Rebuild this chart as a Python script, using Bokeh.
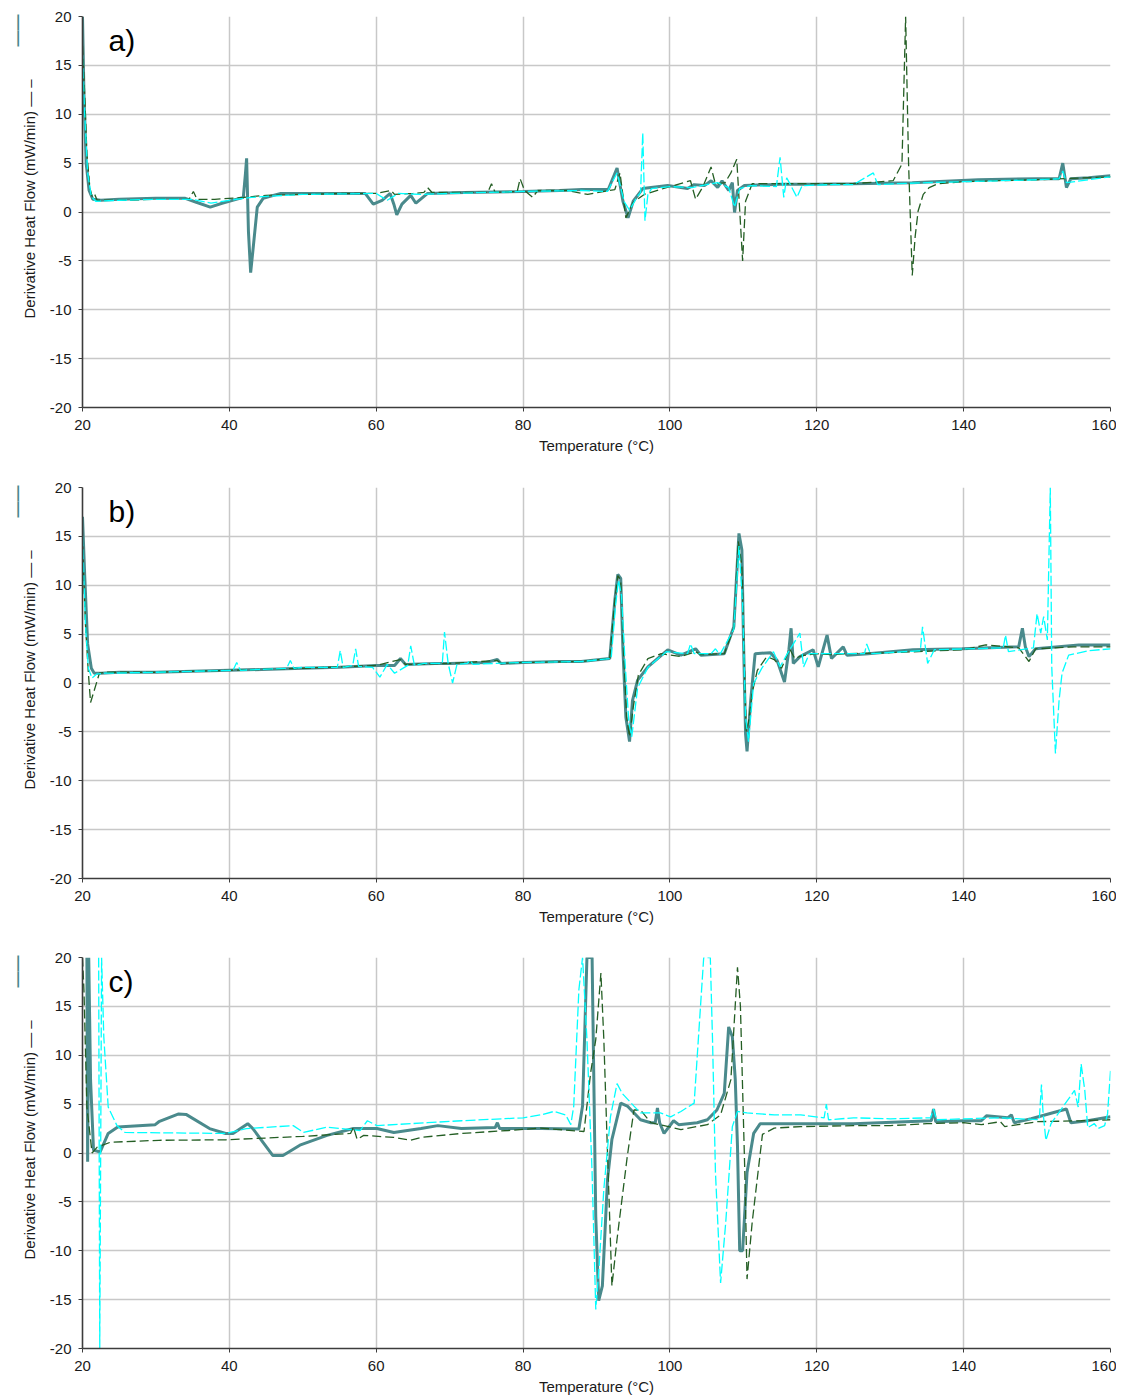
from bokeh.plotting import figure
from bokeh.layouts import column
from bokeh.models import Label, FixedTicker, Title
from bokeh.embed import file_html
from bokeh.resources import INLINE

# ---------------- data ----------------
x_ticks = [20, 40, 60, 80, 100, 120, 140, 160]
y_ticks = [-20, -15, -10, -5, 0, 5, 10, 15, 20]
y_tick_labels = ["-20", "-15", "-10", "-5", "0", "5", "10", "15", "20"]
panel_tags = ["a)", "b)", "c)"]
x_title = "Temperature (°C)"
y_title = "Derivative Heat Flow (mW/min) — –"

# panel a
a_teal_x = [20.0, 20.2, 20.5, 20.9, 21.4, 22.5, 25, 30, 34, 35.5, 37.4, 39, 41.9, 42.2, 42.35, 42.6, 42.9, 43.2, 43.8, 44.6, 47, 52, 58.5, 59.6, 60.8, 61.9, 62.4, 62.8, 63.5, 64.7, 65.4, 67, 72, 80, 85, 88, 91.6, 92.8, 93.6, 94.3, 95.0, 96.3, 99.7, 102.4, 103.3, 104.7, 105.6, 106.5, 107.1, 108.0, 108.5, 108.8, 109.2, 110.1, 115, 119.5, 125, 133, 142, 150, 153.0, 153.5, 154.0, 154.6, 157, 160]
a_teal_y = [20, 12, 5, 2.2, 1.3, 1.2, 1.3, 1.4, 1.4, 1.0, 0.5, 0.9, 1.5, 4.0, 5.5, -2, -6.2, -4, 0.5, 1.4, 1.9, 1.9, 1.9, 0.8, 1.2, 1.9, 0.8, -0.3, 0.8, 1.7, 0.9, 1.9, 2.0, 2.1, 2.2, 2.3, 2.3, 4.5, 1.1, -0.6, 1.1, 2.4, 2.7, 2.4, 2.8, 2.7, 3.2, 2.5, 3.2, 2.2, 3.0, -0.05, 2.2, 2.7, 2.85, 2.85, 2.9, 3.0, 3.3, 3.4, 3.4, 5.0, 2.5, 3.4, 3.5, 3.7]
a_green_x = [20.0, 20.3, 20.6, 21.0, 21.3, 21.6, 22.0, 25, 30, 34.5, 35.1, 35.6, 38, 42, 45, 50, 55, 60, 62.0, 62.5, 65, 66.5, 67.0, 67.6, 70, 75.2, 75.7, 76.2, 79.2, 79.6, 80.2, 81.3, 82, 86, 88.8, 92.5, 93.2, 94.0, 95, 96.5, 100, 102.8, 103.5, 104.5, 105.6, 106.2, 107.5, 108.3, 109.1, 109.4, 109.9, 110.3, 111.2, 115, 120, 125, 130.4, 131.6, 132.1, 132.5, 133.0, 133.4, 133.8, 134.5, 135.3, 136.5, 140, 150, 160]
a_green_y = [17, 12, 6, 2.5, 1.6, 1.9, 1.2, 1.2, 1.3, 1.3, 2.1, 1.3, 1.3, 1.5, 1.7, 1.8, 1.9, 1.9, 2.2, 1.8, 1.9, 2.0, 2.5, 2.0, 2.0, 2.0, 2.9, 2.0, 2.1, 3.4, 2.2, 1.5, 2.2, 2.2, 1.8, 2.3, 4.0, -0.6, 1.0, 1.8, 2.6, 3.2, 1.3, 2.6, 4.6, 2.85, 3.0, 4.0, 5.4, 1.5, -5.0, 1.1, 2.9, 2.9, 2.9, 2.9, 3.2, 4.9, 20, 5, -6.5, -2.5, 0.1, 1.8, 2.5, 2.9, 3.1, 3.3, 3.6]
a_cyan_x = [20.0, 20.3, 20.7, 21.2, 21.8, 25, 30, 35, 37.5, 40, 43, 45, 50, 60, 61.5, 63, 66, 70, 80, 88, 91.5, 92.8, 93.8, 94.5, 95.5, 96.0, 96.3, 96.6, 97.0, 97.5, 100, 103, 105, 106.5, 108, 108.8, 109.5, 111, 114.5, 115.0, 115.5, 115.9, 116.4, 117.3, 118, 122, 125, 127.7, 128.3, 131, 135, 140, 150, 153, 153.5, 154, 160]
a_cyan_y = [16, 10, 4, 1.6, 1.1, 1.2, 1.3, 1.3, 0.9, 1.2, 1.5, 1.6, 1.8, 1.9, 1.2, 1.9, 1.8, 1.9, 2.1, 2.2, 2.1, 4.0, 1.0, 0.2, 1.5, 2.0, 8.1, -0.9, 1.8, 2.4, 2.6, 2.5, 2.8, 3.0, 2.5, 0.5, 2.4, 2.7, 2.6, 5.6, 1.5, 3.5, 2.8, 1.5, 2.7, 2.8, 2.8, 4.0, 2.8, 2.9, 3.0, 3.1, 3.3, 3.4, 4.2, 3.0, 3.6]

# panel b
b_teal_x = [20.0, 20.3, 20.7, 21.2, 21.6, 22.5, 25, 30, 40, 50, 55, 60, 62.5, 63.3, 64, 68, 70, 75, 76.5, 77, 80, 85, 87.9, 91.8, 92.5, 92.9, 93.3, 93.6, 94.0, 94.5, 94.9, 95.6, 97.0, 99.7, 101.5, 103.5, 104.2, 107.4, 108.7, 109.4, 109.8, 110.0, 110.3, 110.5, 111.0, 111.6, 113.7, 114.6, 115.6, 116.2, 116.5, 116.8, 117.7, 119.5, 120.2, 121.4, 122.0, 123.6, 124.1, 127, 133.1, 139.8, 147.5, 148.0, 148.4, 148.9, 149.8, 155.7, 160]
b_teal_y = [17, 11, 4, 1.5, 1.0, 1.0, 1.1, 1.1, 1.3, 1.5, 1.6, 1.8, 1.8, 2.5, 1.9, 2.0, 2.0, 2.1, 2.4, 2.0, 2.1, 2.2, 2.2, 2.5, 8.5, 11.1, 10.7, 3.4, -3.5, -6.0, -1.8, 0.3, 1.65, 3.4, 2.85, 3.5, 2.85, 3.0, 5.75, 15.3, 13.6, 5.1, -5.2, -7.0, -1.8, 3.0, 3.1, 2.3, 0.1, 3.4, 5.6, 2.0, 2.7, 3.4, 1.65, 4.9, 2.5, 3.7, 2.85, 3.0, 3.4, 3.5, 3.7, 5.6, 3.7, 2.7, 3.5, 3.9, 3.9]
b_green_x = [20.0, 20.4, 20.8, 21.1, 21.5, 22.3, 23, 30, 40, 50, 60, 63.3, 64, 70, 76.5, 77, 80, 87.9, 91.8, 92.5, 92.9, 93.3, 93.7, 94.1, 94.5, 95.0, 95.7, 97.0, 98.8, 101.5, 103.5, 104.2, 107.4, 108.7, 109.3, 109.8, 110.1, 110.4, 110.7, 111.2, 111.9, 113.2, 114.2, 115.2, 116.3, 117, 118, 120, 122, 124, 130, 140, 143, 147.5, 148.9, 149.8, 155, 160]
b_green_y = [14, 6, 1.0, -2.0, -1.0, 1.0, 1.1, 1.1, 1.3, 1.5, 1.8, 2.4, 1.9, 2.0, 2.3, 2.0, 2.1, 2.2, 2.5, 8.5, 11.0, 10.5, 3.0, -3.5, -5.5, -2.5, 0.8, 2.5, 3.0, 2.7, 3.2, 2.9, 3.0, 5.6, 14.5, 12, 3.0, -5.0, -4.0, -1.0, 1.3, 2.7, 2.4, 1.5, 3.5, 2.5, 2.8, 3.0, 2.9, 3.0, 3.1, 3.4, 3.9, 3.6, 2.2, 3.5, 3.7, 3.7]
b_cyan_x = [20.0, 20.4, 20.8, 21.3, 21.9, 23, 30, 40.5, 41.0, 41.5, 47.8, 48.3, 48.8, 50, 54.7, 55.1, 55.5, 56.8, 57.2, 57.6, 59.5, 60.5, 61.5, 62.5, 64.3, 64.7, 65.2, 66.5, 69.0, 69.3, 69.8, 70.4, 71.0, 72.4, 72.8, 73.2, 76, 80, 88, 92, 92.6, 93, 93.4, 93.9, 94.4, 94.8, 95.6, 97.0, 99.5, 102.4, 102.8, 103.3, 105.6, 106.2, 106.8, 108.7, 109.4, 109.9, 110.3, 110.7, 111.4, 112.5, 114.1, 115.0, 116, 117.7, 118.2, 119, 126.5, 126.8, 127.3, 134.1, 134.4, 135.1, 136, 145.4, 145.7, 146.1, 149.5, 150.0, 150.5, 150.9, 151.4, 151.8, 152.0, 152.5, 153.0, 153.4, 154.3, 157, 160]
b_cyan_y = [15, 6, 1.5, 0.5, 0.9, 1.0, 1.1, 1.3, 2.1, 1.3, 1.5, 2.3, 1.5, 1.6, 1.6, 3.3, 1.6, 1.8, 3.5, 1.7, 1.6, 0.6, 1.9, 1.0, 1.8, 3.8, 1.8, 2.0, 2.0, 5.2, 2.0, 0.0, 1.9, 2.0, 2.3, 1.9, 2.0, 2.1, 2.2, 2.5, 8.0, 10.5, 9.0, 2.0, -4.0, -5.5, -0.5, 1.6, 3.2, 3.0, 4.0, 3.0, 3.0, 3.5, 2.9, 5.5, 14.0, 8.0, -3.5, -6.0, -0.05, 1.5, 3.2, 1.65, 3.0, 5.1, 1.65, 3.0, 3.0, 4.0, 3.0, 3.3, 5.75, 2.0, 3.4, 3.6, 4.9, 3.2, 3.6, 7.1, 5.1, 6.8, 4.4, 20, 1.65, -7.2, -1.75, 1.0, 2.85, 3.3, 3.5]

# panel c
c_teal_x = [20.6, 20.7, 20.85, 21.1, 21.5, 22.4, 23.5, 24.8, 29.9, 30.4, 33.1, 34.1, 37.3, 39.5, 40.5, 42.5, 43.2, 45.9, 47.3, 49.6, 53.3, 56.9, 60.1, 62.4, 66.1, 68.4, 71.6, 76.2, 76.5, 76.8, 82.4, 87.6, 88.1, 88.7, 89.4, 89.9, 90.3, 90.8, 91.5, 92.1, 93.3, 94.2, 96.0, 97.4, 98.0, 98.3, 98.6, 99.2, 100.5, 101.2, 103.7, 105.1, 106.4, 107.4, 108.0, 108.5, 108.9, 109.2, 109.5, 109.9, 110.5, 111.4, 112.3, 117.8, 125, 135.6, 135.9, 136.2, 140, 142.4, 143.1, 146.0, 146.5, 146.9, 149.2, 154.0, 154.6, 156.9, 160]
c_teal_y = [20, -0.9, 20, 7.4, 0.3, 0.1, 2.0, 2.65, 2.9, 3.2, 4.0, 3.95, 2.5, 2.0, 2.0, 3.0, 2.5, -0.25, -0.25, 0.8, 1.8, 2.5, 2.5, 2.1, 2.5, 2.8, 2.5, 2.6, 3.1, 2.5, 2.5, 2.45, 4.8, 20, 20, -6.5, -15.1, -13.6, -2.7, 1.4, 5.1, 4.8, 3.4, 3.1, 3.1, 4.6, 3.1, 2.0, 3.3, 2.9, 3.1, 3.4, 4.4, 6.1, 12.9, 11.9, 7.5, 0.7, -10.0, -10.0, -2.0, 2.0, 3.0, 3.0, 3.0, 3.3, 4.5, 3.2, 3.3, 3.3, 3.8, 3.6, 3.9, 3.1, 3.5, 4.5, 3.1, 3.3, 3.7]
c_green_x = [20.0, 20.2, 20.6, 21.3, 22.0, 23.8, 30.4, 39.5, 50, 56.5, 56.9, 57.4, 58.3, 62.4, 64.7, 66.1, 71.6, 78, 82.4, 88.3, 89.2, 89.9, 90.6, 91.0, 91.5, 92.1, 92.8, 94.2, 95.1, 96.0, 97.4, 101.5, 105.1, 106.9, 108.3, 109.2, 109.6, 109.9, 110.2, 110.5, 111.2, 112.6, 114.2, 117.8, 125, 130, 135, 140, 142.4, 145.0, 145.6, 150, 156, 160]
c_green_y = [20, 16.6, 4.7, 0, 0.6, 1.1, 1.3, 1.35, 1.7, 2.0, 2.65, 1.4, 1.8, 1.6, 1.3, 1.6, 2.0, 2.3, 2.55, 2.2, 8.2, 11.6, 18.4, 11.6, 0, -13.6, -8.8, -0.3, 4.4, 4.4, 3.1, 2.4, 2.9, 3.9, 7.5, 19.0, 15.0, 6.5, -2.0, -12.9, -7.1, 1.9, 2.55, 2.7, 2.8, 2.8, 3.0, 3.1, 2.9, 3.2, 2.7, 3.2, 3.3, 3.4]
c_cyan_x = [22.2, 22.35, 22.6, 22.9, 23.5, 24.7, 25.8, 39.5, 42.3, 48.7, 50.1, 53.3, 57.8, 58.8, 60.1, 67.0, 71.6, 80, 82.4, 84.2, 85.8, 86.5, 86.9, 87.6, 88.1, 88.7, 89.4, 89.9, 90.3, 91.0, 91.9, 92.8, 93.5, 95.1, 96.0, 98.7, 100.1, 101.5, 103.3, 104.6, 105.5, 105.8, 106.2, 106.9, 107.6, 108.5, 109.2, 110.5, 114.2, 117.8, 121.0, 121.3, 121.6, 125, 130, 135.5, 135.9, 136.3, 140, 145, 150.3, 150.6, 150.8, 151.2, 151.9, 155.1, 155.6, 156.0, 156.5, 156.9, 157.8, 158.3, 159.2, 159.6, 160]
c_cyan_y = [20, -20, 20, 11.9, 4.7, 2.8, 2.1, 2.0, 2.5, 2.8, 2.1, 2.65, 2.3, 3.3, 2.8, 3.1, 3.3, 3.6, 3.9, 4.25, 3.9, 2.9, 4.8, 16.7, 20, 11.6, -2.0, -16.0, -12.2, -3.7, 3.7, 7.1, 6.1, 4.8, 4.1, 4.1, 3.7, 4.25, 5.1, 20, 20, 11.6, -2.0, -13.3, -7.1, 2.7, 4.25, 4.1, 3.9, 3.9, 3.6, 5.0, 3.4, 3.6, 3.5, 3.6, 4.5, 3.4, 3.5, 3.6, 3.4, 7.0, 4.3, 1.3, 3.0, 6.4, 4.7, 9.1, 6.4, 2.6, 3.0, 2.5, 2.8, 4.0, 8.4]

# ---------------- style ----------------
TEAL = "#4a8a8c"
GREEN = "#245e24"
CYAN = "#00ffff"
FONT = "Liberation Sans"
FRAME_H = 391


def make_panel(tag, teal, green, cyan, height, top):
    p = figure(width=1116, height=height, x_range=(20, 160), y_range=(-20, 20),
               output_backend="svg", toolbar_location=None,
               min_border_left=82, min_border_right=6, min_border_top=top,
               min_border_bottom=height - top - FRAME_H)
    p.outline_line_color = None
    p.background_fill_color = "white"
    p.border_fill_color = "white"

    p.xaxis.ticker = FixedTicker(ticks=x_ticks)
    p.yaxis.ticker = FixedTicker(ticks=y_ticks)
    p.yaxis.major_label_overrides = {t: s for t, s in zip(y_ticks, y_tick_labels)}
    for ax in (p.xaxis[0], p.yaxis[0]):
        ax.axis_line_color = "#3c3c3c"
        ax.axis_line_width = 1.6
        ax.major_tick_line_color = "#3c3c3c"
        ax.major_tick_in = 0
        ax.major_tick_out = 4
        ax.minor_tick_line_color = None
        ax.major_label_text_font = FONT
        ax.major_label_text_font_size = "15px"
        ax.major_label_text_color = "#1a1a1a"
    p.xaxis.major_label_standoff = 8
    p.yaxis.major_label_standoff = 7
    p.xaxis.axis_label = x_title
    p.xaxis.axis_label_text_font = FONT
    p.xaxis.axis_label_text_font_size = "15px"
    p.xaxis.axis_label_text_font_style = "normal"
    p.xaxis.axis_label_text_color = "#1a1a1a"
    p.xaxis.axis_label_standoff = 4

    p.xgrid.grid_line_color = "#c8c8c8"
    p.ygrid.grid_line_color = "#c8c8c8"
    p.xgrid.grid_line_width = 1.5
    p.ygrid.grid_line_width = 1.5

    p.line(teal[0], teal[1], line_color=TEAL, line_width=3)
    p.line(green[0], green[1], line_color=GREEN, line_width=1.3, line_dash="9 4")
    p.line(cyan[0], cyan[1], line_color=CYAN, line_width=1.3, line_dash="10 3")

    px_per_x = 1028 / 140.0
    px_per_y = FRAME_H / 40.0
    p.add_layout(Label(x=20 + 26 / px_per_x, y=20 - 24 / px_per_y, text=tag,
                       text_font=FONT, text_font_size="30px", text_color="black",
                       text_align="left", text_baseline="middle"))
    # y title (with legend keys) as a left-side title, positioned along the axis
    p.add_layout(Title(text=y_title, align="left", offset=89, standoff=17,
                       text_font=FONT, text_font_size="15px", text_font_style="normal",
                       text_color="#1a1a1a"), "left")
    p.add_layout(Title(text="——", align="right", offset=-2, standoff=-30,
                       text_font=FONT, text_font_size="16px", text_font_style="bold",
                       text_color=TEAL), "left")
    return p


pa = make_panel(panel_tags[0], (a_teal_x, a_teal_y), (a_green_x, a_green_y), (a_cyan_x, a_cyan_y), 479, 16)
pb = make_panel(panel_tags[1], (b_teal_x, b_teal_y), (b_green_x, b_green_y), (b_cyan_x, b_cyan_y), 471, 8)
pc = make_panel(panel_tags[2], (c_teal_x, c_teal_y), (c_green_x, c_green_y), (c_cyan_x, c_cyan_y), 447, 7)

layout = column(pa, pb, pc, spacing=0)
open("out.html", "w").write(file_html(layout, INLINE))
